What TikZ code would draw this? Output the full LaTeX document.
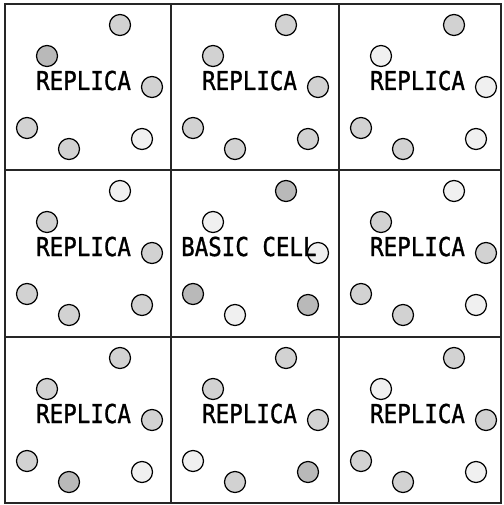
\documentclass[tikz,border=0pt]{standalone}
\usepackage{fontspec}
\setmainfont{Liberation Sans}
\newfontfamily\labfont[FakeBold=1.2]{DejaVu Sans Mono}
\begin{document}
\begin{tikzpicture}[x=1pt,y=-1pt,
  grid/.style={line width=1.3pt, draw=black!85},
  ball/.style={circle, draw=black, line width=1.2pt, minimum size=21pt, inner sep=0pt},
  lt/.style={fill=gray!12},
  md/.style={fill=gray!35},
  dk/.style={fill=gray!55},
  lab/.style={font=\labfont\fontsize{26}{26}\selectfont, anchor=base west, inner sep=0pt, xscale=0.865}]
\useasboundingbox (0,0) rectangle (503,505);
\fill[white] (0,0) rectangle (503,505);
\draw[grid] (5,4) rectangle (501,503);
\draw[grid] (171,4) -- (171,503) (339,4) -- (339,503) (5,170) -- (501,170) (5,337) -- (501,337);
\foreach \cx/\cy/\r/\c/\tx/\txt/\fa/\fb/\fc/\fd/\fe/\ff in {
  5/4/0/0/31/REPLICA/md/dk/md/md/md/lt,
  171/4/0/1/31/REPLICA/md/md/md/md/md/md,
  339/4/0/2/31/REPLICA/md/lt/lt/md/md/lt,
  5/170/1/0/31/REPLICA/lt/md/md/md/md/md,
  171/170/1/1/10/BASIC CELL/dk/lt/lt/dk/lt/dk,
  339/170/1/2/31/REPLICA/lt/md/md/md/md/lt,
  5/337/2/0/31/REPLICA/md/md/md/md/dk/lt,
  171/337/2/1/31/REPLICA/md/md/md/lt/md/dk,
  339/337/2/2/31/REPLICA/md/lt/md/md/md/lt} {
  \begin{scope}[shift={(\cx,\cy)}]
    \node[ball,\fa] (b\r\c a) at (115,21) {};
    \node[ball,\fb] (b\r\c b) at (42,52) {};
    \node[ball,\fc] (b\r\c c) at (147,83) {};
    \node[ball,\fd] (b\r\c d) at (22,124) {};
    \node[ball,\fe] (b\r\c e) at (64,145) {};
    \node[ball,\ff] (b\r\c f) at (137,135) {};
    \node[lab] (t\r\c) at (\tx,86) {\txt};
  \end{scope}
}
\end{tikzpicture}
\end{document}
